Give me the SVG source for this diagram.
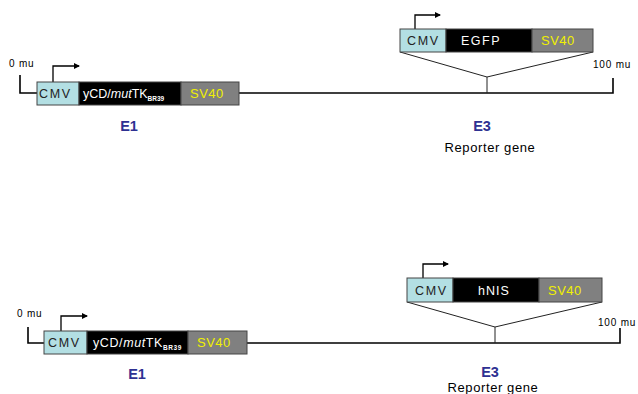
<svg xmlns="http://www.w3.org/2000/svg" width="638" height="394" viewBox="0 0 638 394">
<style>
text{font-family:"Liberation Sans",Arial,sans-serif}
.ln{fill:none;stroke:#000;stroke-width:1.6}
.thin{fill:none;stroke:#222;stroke-width:1}
.cmv{fill:#b3dfe3;stroke:#444;stroke-width:1}
.blk{fill:#000;stroke:#444;stroke-width:1}
.gry{fill:#808080;stroke:#444;stroke-width:1}
.tc{font-size:12.5px;fill:#222;letter-spacing:1.6px}
.tw{font-size:12.5px;fill:#fff}
.ty{font-size:13px;fill:#f0f000;letter-spacing:0.5px}
.sub{font-size:6.5px;fill:#fff;font-weight:bold}
.mu{font-size:10px;fill:#000;letter-spacing:0.8px}
.ex{font-size:14.5px;font-weight:bold;fill:#2e3192}
.rg{font-size:13px;fill:#000;letter-spacing:0.6px}
</style>
<defs>
<marker id="ah" markerWidth="6" markerHeight="6" refX="5" refY="3" orient="auto" markerUnits="userSpaceOnUse">
<path d="M0,0 L6,3 L0,6 Z" fill="#000"/>
</marker>
</defs>
<rect width="638" height="394" fill="#fff"/>
<g id="connectors">
<path class="ln" d="M20,75 V93 H613 V78"/>
<path class="thin" d="M400,52 L487,77 L593,52 M487,77 V93"/>
<path class="ln" d="M28,327 V343 H620 V328"/>
<path class="thin" d="M407,302 L495,327 L602,302 M495,327 V343"/>
<path class="ln" style="stroke-width:1.3" marker-end="url(#ah)" d="M53,82 V66 H79"/>
<path class="ln" style="stroke-width:1.3" marker-end="url(#ah)" d="M415,29 V15 H440"/>
<path class="ln" style="stroke-width:1.3" marker-end="url(#ah)" d="M61,331 V316 H87"/>
<path class="ln" style="stroke-width:1.3" marker-end="url(#ah)" d="M423,278 V264 H448"/>
</g>
<g id="top-labels">
<text class="mu" x="9" y="67">0 mu</text>
<text class="mu" x="593" y="68">100 mu</text>
</g>
<g id="top-E1-cassette">
<rect class="cmv" x="37" y="82" width="42" height="23"/>
<rect class="blk" x="79" y="82" width="102" height="23"/>
<rect class="gry" x="181" y="82" width="58" height="23"/>
<text class="tc" x="39" y="97.5">CMV</text>
<text class="tw" x="83" y="97.5">yCD/<tspan font-style="italic">mut</tspan>TK<tspan class="sub" dy="3.5">BR39</tspan></text>
<text class="ty" x="190" y="97.5">SV40</text>
</g>
<g id="top-E3-cassette">
<rect class="cmv" x="400" y="29" width="46" height="23"/>
<rect class="blk" x="446" y="29" width="86" height="23"/>
<rect class="gry" x="532" y="29" width="61" height="23"/>
<text class="tc" x="407" y="44.5">CMV</text>
<text class="tw" x="481" y="44.5" text-anchor="middle" letter-spacing="1.5">EGFP</text>
<text class="ty" x="541" y="44.5">SV40</text>
</g>
<g id="top-E1-label"><text class="ex" x="129" y="131" text-anchor="middle">E1</text></g>
<g id="top-E3-label">
<text class="ex" x="482" y="131" text-anchor="middle">E3</text>
<text class="rg" x="490" y="152" text-anchor="middle">Reporter gene</text>
</g>
<g id="bottom-labels">
<text class="mu" x="17" y="317">0 mu</text>
<text class="mu" x="598" y="326">100 mu</text>
</g>
<g id="bottom-E1-cassette">
<rect class="cmv" x="44" y="331" width="43" height="23"/>
<rect class="blk" x="87" y="331" width="101" height="23"/>
<rect class="gry" x="188" y="331" width="59" height="23"/>
<text class="tc" x="48" y="346.5">CMV</text>
<text class="tw" x="93" y="346.5" letter-spacing="0.6">yCD/<tspan font-style="italic">mut</tspan>TK<tspan class="sub" dy="3.5">BR39</tspan></text>
<text class="ty" x="197" y="346.5">SV40</text>
</g>
<g id="bottom-E3-cassette">
<rect class="cmv" x="407" y="278" width="46" height="24"/>
<rect class="blk" x="453" y="278" width="86" height="24"/>
<rect class="gry" x="539" y="278" width="63" height="24"/>
<text class="tc" x="415" y="294.5">CMV</text>
<text class="tw" x="494" y="294.5" text-anchor="middle" letter-spacing="1">hNIS</text>
<text class="ty" x="548" y="294.5">SV40</text>
</g>
<g id="bottom-E1-label"><text class="ex" x="137" y="379" text-anchor="middle">E1</text></g>
<g id="bottom-E3-label">
<text class="ex" x="490" y="376.5" text-anchor="middle">E3</text>
<text class="rg" x="493" y="392" text-anchor="middle">Reporter gene</text>
</g>
</svg>
